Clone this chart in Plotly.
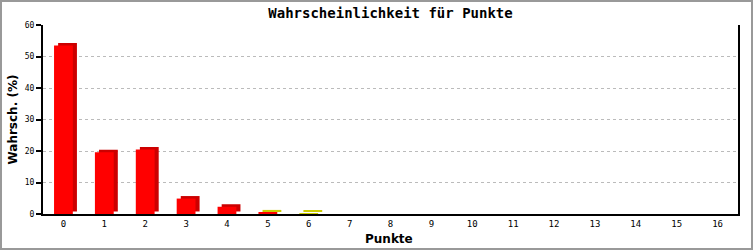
import plotly.graph_objects as go

punkte = list(range(17))
wahrsch = [53.5, 19.6, 20.5, 4.9, 2.3, 0.5, 0.3, 0, 0, 0, 0, 0, 0, 0, 0, 0, 0]
front_colors = ["#ff0000"] * 6 + ["#cccc00"] + ["#ff0000"] * 10
depth_colors = ["#cc0000"] * 5 + ["#cccc00", "#cccc00"] + ["#cc0000"] * 10
y_ticks = [0, 10, 20, 30, 40, 50, 60]

W, H = 753, 250
ml, mr, mt, mb = 43, 15, 25, 36
pw, ph = W - ml - mr, H - mt - mb

depth_dx = 0.1   # category units
depth_dy = 0.8   # value units
bw = 0.46

mono = "DejaVu Sans Mono"

fig = go.Figure()
shown = [i for i, v in enumerate(wahrsch) if v > 0]
fig.add_trace(go.Bar(
    x=[punkte[i] for i in shown],
    y=[wahrsch[i] for i in shown],
    base=depth_dy,
    offset=-bw / 2 + depth_dx,
    width=bw,
    marker=dict(color=[depth_colors[i] for i in shown], line=dict(width=0)),
    hoverinfo="skip", showlegend=False,
))
fig.add_trace(go.Bar(
    x=[punkte[i] for i in shown],
    y=[wahrsch[i] for i in shown],
    offset=-bw / 2,
    width=bw,
    marker=dict(color=[front_colors[i] for i in shown], line=dict(width=0)),
    showlegend=False,
))

fig.update_layout(
    width=W, height=H,
    margin=dict(l=ml, r=mr, t=mt, b=mb, autoexpand=False),
    paper_bgcolor="white", plot_bgcolor="white",
    barmode="overlay",
    title=dict(text="<b>Wahrscheinlichkeit für Punkte</b>", x=0.5, xref="paper",
               y=1 - 13 / H, yanchor="middle",
               font=dict(family=mono, size=14, color="black")),
    xaxis=dict(
        range=[-0.5, 16.5], tickmode="array", tickvals=punkte,
        ticktext=[str(p) for p in punkte], automargin=False,
        showgrid=False, zeroline=False, showline=True, linecolor="black",
        linewidth=2, ticks="", tickfont=dict(family=mono, size=9, color="black"),
    ),
    yaxis=dict(
        range=[0, 60], tickmode="array", tickvals=y_ticks, automargin=False,
        showgrid=True, gridcolor="#bbbbbb", griddash="3px,3px", gridwidth=1,
        zeroline=False, showline=True, linecolor="black", linewidth=2,
        mirror=True, ticks="outside", ticklen=5, tickcolor="black", tickwidth=2,
        tickfont=dict(family=mono, size=8, color="black"),
    ),
    annotations=[
        dict(text="<b>Punkte</b>", xref="paper", yref="paper",
             x=(389 - ml) / pw, y=-(239 - mt - ph) / ph,
             xanchor="center", yanchor="middle", showarrow=False,
             font=dict(family="DejaVu Sans", size=12, color="black")),
        dict(text="<b>Wahrsch. (%)</b>", xref="paper", yref="paper",
             x=-(ml - 12) / pw, y=0.5, textangle=-90,
             xanchor="center", yanchor="middle", showarrow=False,
             font=dict(family="DejaVu Sans", size=12, color="black")),
    ],
    shapes=[dict(type="rect", xref="paper", yref="paper",
                 x0=-(ml - 1) / pw, x1=1 + (mr - 1) / pw,
                 y0=-(mb - 1) / ph, y1=1 + (mt - 1) / ph,
                 line=dict(color="#999999", width=2), layer="above")],
)

fig.write_html("out.html")
